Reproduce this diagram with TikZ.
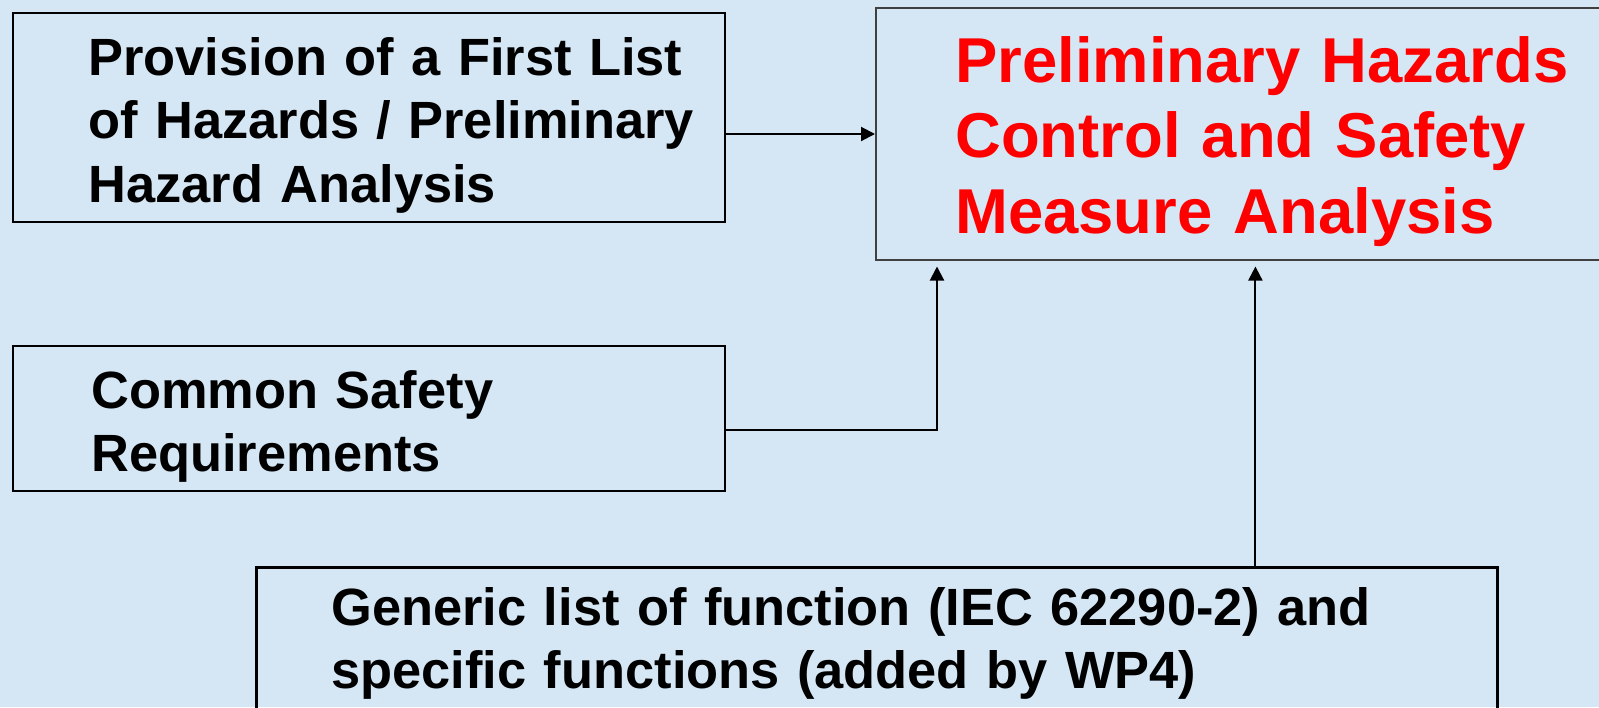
\documentclass[tikz,border=0pt]{standalone}
\usepackage{fontspec}
\setmainfont{Liberation Sans}
\usetikzlibrary{arrows.meta}
\definecolor{paper}{RGB}{213,231,245}
\definecolor{alarm}{RGB}{255,0,0}
\definecolor{edgegrey}{RGB}{64,64,64}
\begin{document}
\begin{tikzpicture}[x=0.5pt,y=-0.5pt,
  box/.style={draw=black, line width=1pt, inner sep=0pt, anchor=north west},
  txt/.style={anchor=base west, inner sep=0pt, align=left, text width=600pt,
    font=\bfseries\fontsize{26.2}{31.75}\selectfont},
  redtxt/.style={txt, text=alarm, font=\bfseries\fontsize{31.7}{37.75}\selectfont},
  conn/.style={line width=1pt, -{Triangle[length=7pt,width=7pt]}}]
  % page frame
  \useasboundingbox (0,0) rectangle (1599,707);
  \clip (0,0) rectangle (1599,707);
  \fill[paper] (0,0) rectangle (1599,707);

  % boxes
  \node[box, minimum width=356pt, minimum height=104.5pt] (b1) at (12,12) {};
  \node[box, draw=edgegrey, line width=0.75pt, minimum width=380pt, minimum height=126pt] (b2) at (875,7) {};
  \node[box, minimum width=356pt, minimum height=72.5pt] (b3) at (12,345) {};
  \node[box, line width=1.4pt, minimum width=620.5pt, minimum height=90pt] (b4) at (255,566) {};

  % texts
  \node[txt] (t1) at (88,75) {Provision of a First List\\of Hazards / Preliminary\\Hazard Analysis};
  \node[redtxt] (t2) at (955,82) {Preliminary Hazards\\Control and Safety\\Measure Analysis};
  \node[txt] (t3) at (91,408) {Common Safety\\Requirements};
  \node[txt] (t4) at (331,625) {Generic list of function (IEC 62290-2) and\\specific functions (added by WP4)};

  % connectors
  \draw[conn] ([yshift=-8.25pt]b1.east) -- ([yshift=-8.25pt]b1.east -| b2.west);
  \draw[conn, shorten >=3pt] ([yshift=-5.75pt]b3.east) -| ([xshift=31pt]b2.south west);
  \draw[conn, shorten >=3pt] ([xshift=189.25pt]b4.north) -- ([xshift=189.25pt]b4.north |- b2.south);
\end{tikzpicture}
\end{document}
